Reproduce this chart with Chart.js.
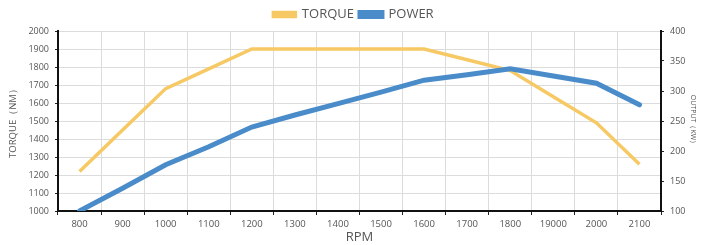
<!DOCTYPE html>
<html>
<head>
<meta charset="utf-8">
<script src="https://cdn.jsdelivr.net/npm/chart.js@4/dist/chart.umd.min.js"></script>
<style>
  html, body { margin: 0; padding: 0; background: #fff; }
  #wrap { width: 707px; height: 245px; }
</style>
</head>
<body>
<div id="wrap"><canvas id="chart" width="707" height="245"></canvas></div>
<script>
// RPM categories (the "19000" label is as printed in the original)
const rpmLabels = ['800', '900', '1000', '1100', '1200', '1300', '1400', '1500',
                   '1600', '1700', '1800', '19000', '2000', '2100'];

// Torque in NM (left axis)
const torque = [1220, 1450, 1680, 1790, 1900, 1900, 1900, 1900,
                1900, 1840, 1780, 1635, 1490, 1260];

// Power output in KW (right axis)
const power = [100, 138, 177, 207, 240, 260, 279, 298,
               318, 327, 337, 325, 313, 277];

const fontFamily = '"Open Sans", "Noto Sans", sans-serif';

// fix the plot area to match the original layout
function fitWidth(w) { return (scale) => { scale.width = w; }; }
function fitHeight(h) { return (scale) => { scale.height = h; }; }

const chart = new Chart(document.getElementById('chart'), {
    type: 'line',
    data: {
        labels: rpmLabels,
        datasets: [{
            label: 'TORQUE',
            data: torque,
            yAxisID: 'yTorque',
            borderColor: '#F7C964',
            backgroundColor: '#F7C964',
            borderWidth: 3.5,
            tension: 0,
            pointRadius: 0,
            fill: false,
            order: 2
        }, {
            label: 'POWER',
            data: power,
            yAxisID: 'yPower',
            borderColor: '#4A8CC9',
            backgroundColor: '#4A8CC9',
            borderWidth: 5,
            tension: 0,
            pointRadius: 0,
            fill: false,
            borderCapStyle: 'round',
            order: 1
        }]
    },
    options: {
        responsive: false,
        animation: false,
        layout: { padding: { left: 8, right: 8, top: 2, bottom: 0 } },
        plugins: {
            tooltip: { enabled: false },
            legend: {
                position: 'top',
                labels: {
                    boxWidth: 22,
                    boxHeight: 4,
                    padding: 6,
                    color: '#555',
                    font: { family: fontFamily, size: 13 },
                    sort: (a, b) => a.datasetIndex - b.datasetIndex
                }
            }
        },
        scales: {
            x: {
                type: 'category',
                offset: true,
                afterFit: fitHeight(34),
                grid: { offset: true, color: '#dcdcdc', drawTicks: true, tickLength: 4, tickColor: '#222' },
                border: { color: '#111', width: 2 },
                ticks: { color: '#555', font: { family: fontFamily, size: 9.5 }, padding: 4, maxRotation: 0, autoSkip: false },
                title: { display: true, text: 'RPM', color: '#555', font: { family: fontFamily, size: 13 }, padding: { top: 0, bottom: 0 } }
            },
            yTorque: {
                position: 'left',
                min: 1000,
                max: 2000,
                afterFit: fitWidth(50),
                ticks: { stepSize: 100, color: '#555', font: { family: fontFamily, size: 9 }, padding: 6,
                         callback: (v) => String(v) },
                grid: { color: '#dcdcdc', tickLength: 3, tickColor: '#222' },
                border: { color: '#111', width: 2 },
                title: { display: true, text: 'TORQUE（NM）', color: '#555', font: { family: fontFamily, size: 9.5 }, padding: { top: 0, bottom: 2 } }
            },
            yPower: {
                position: 'right',
                min: 100,
                max: 400,
                afterFit: fitWidth(38),
                ticks: { stepSize: 50, color: '#555', font: { family: fontFamily, size: 9 }, padding: 6 },
                grid: { drawOnChartArea: false, tickLength: 3, tickColor: '#222' },
                border: { color: '#111', width: 2 },
                title: { display: true, text: 'OUTPUT（KW）', color: '#555', font: { family: fontFamily, size: 7 }, padding: { top: 2, bottom: 0 } }
            }
        }
    }
});
</script>
</body>
</html>
